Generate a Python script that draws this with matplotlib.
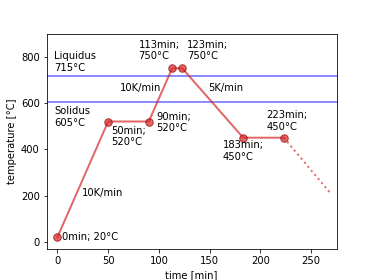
import matplotlib.pyplot as plt

# heating schedule
times = [0, 50, 90, 113, 123, 183, 223]
temps = [20, 520, 520, 750, 750, 450, 450]
# cooling continues after the last hold
cool_times = [223, 268]
cool_temps = [450, 215]

liquidus = 715
solidus = 605

point_labels = ["0min; 20°C", "50min;\n520°C", "90min;\n520°C", "113min;\n750°C",
                "123min;\n750°C", "183min;\n450°C", "223min;\n450°C"]
label_pos = [(5, 20), (53, 455), (97, 515), (80, 780), (128, 780), (163, 393), (206, 522)]
label_va = ["center", "center", "center", "bottom", "bottom", "center", "center"]

rate_labels = ["10K/min", "10K/min", "5K/min"]
rate_pos = [(24, 213), (62, 665), (149, 665)]


def main() -> None:
    fig, ax = plt.subplots(figsize=(374 / 72, 280 / 72), dpi=72)
    ax.axhline(liquidus, color="b", alpha=0.6, lw=1.5)
    ax.axhline(solidus, color="b", alpha=0.6, lw=1.5)
    ax.text(-3, liquidus + 16, f"Liquidus\n{liquidus}°C", va="bottom")
    ax.text(-3, solidus - 20, f"Solidus\n{solidus}°C", va="top")

    ax.plot(times, temps, color="tab:red", alpha=0.7, lw=2, marker="o",
            markersize=7.5, markerfacecolor="tab:red", markeredgecolor="darkred")
    ax.plot(cool_times, cool_temps, color="tab:red", alpha=0.7, lw=2, ls=":")

    for txt, (x, y), va in zip(point_labels, label_pos, label_va):
        ax.text(x, y, txt, va=va)
    for txt, (x, y) in zip(rate_labels, rate_pos):
        ax.text(x, y, txt, va="center")

    ax.set_xlim(-10.5, 275)
    ax.set_ylim(-32, 900)
    ax.set_xlabel("time [min]")
    ax.set_ylabel("temperature [°C]")
    fig.savefig("out.png", dpi=72)


if __name__ == "__main__":
    main()
